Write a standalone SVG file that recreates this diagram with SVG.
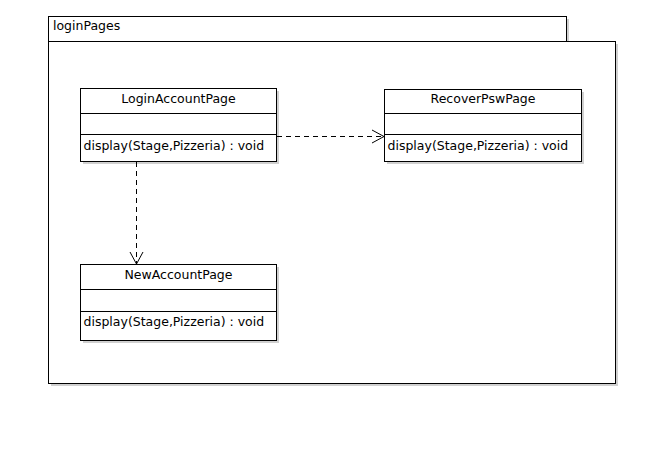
<svg xmlns="http://www.w3.org/2000/svg" width="664" height="464" viewBox="0 0 664 464">
<style>
.s{fill:#d0d0d0;stroke:none}
.b{fill:#fff;stroke:#000;stroke-width:1}
.t{font-family:"DejaVu Sans",sans-serif;font-size:12.5px;fill:#000}
.c{text-anchor:middle}
.d{fill:none;stroke:#000;stroke-width:1;stroke-dasharray:5,4}
.h{fill:none;stroke:#000;stroke-width:1}
</style>
<g id="loginPages">
<rect class="s" x="51" y="19" width="518" height="25"/>
<rect class="s" x="51" y="44" width="567" height="342"/>
<rect class="b" x="48.5" y="16.5" width="518" height="25"/>
<rect class="b" x="48.5" y="41.5" width="567" height="342"/>
<text class="t" x="53" y="30">loginPages</text>
</g>
<g id="LoginAccountPage">
<rect class="s" x="83" y="91" width="196" height="73"/>
<rect class="b" x="80.5" y="88.5" width="196" height="73"/>
<line class="h" x1="80.5" y1="113.5" x2="276.5" y2="113.5"/>
<line class="h" x1="80.5" y1="134.5" x2="276.5" y2="134.5"/>
<text class="t c" x="178.5" y="102.5">LoginAccountPage</text>
<text class="t" x="83.5" y="150">display(Stage,Pizzeria) : void</text>
</g>
<g id="RecoverPswPage">
<rect class="s" x="387" y="92" width="197" height="72"/>
<rect class="b" x="384.5" y="89.5" width="197" height="72"/>
<line class="h" x1="384.5" y1="113.5" x2="581.5" y2="113.5"/>
<line class="h" x1="384.5" y1="134.5" x2="581.5" y2="134.5"/>
<text class="t c" x="483" y="102.5">RecoverPswPage</text>
<text class="t" x="387.5" y="150">display(Stage,Pizzeria) : void</text>
</g>
<g id="NewAccountPage">
<rect class="s" x="83" y="267" width="196" height="76"/>
<rect class="b" x="80.5" y="264.5" width="196" height="76"/>
<line class="h" x1="80.5" y1="289.5" x2="276.5" y2="289.5"/>
<line class="h" x1="80.5" y1="311.5" x2="276.5" y2="311.5"/>
<text class="t c" x="178.5" y="278.5">NewAccountPage</text>
<text class="t" x="83.5" y="325.5">display(Stage,Pizzeria) : void</text>
</g>
<g id="connectors">
<line class="d" x1="277" y1="136.5" x2="384" y2="136.5"/>
<polyline class="h" points="372,130 384,136.5 372,143"/>
<line class="d" x1="136.5" y1="162" x2="136.5" y2="264"/>
<polyline class="h" points="130,252 136.5,264 143,252"/>
</g>
</svg>
